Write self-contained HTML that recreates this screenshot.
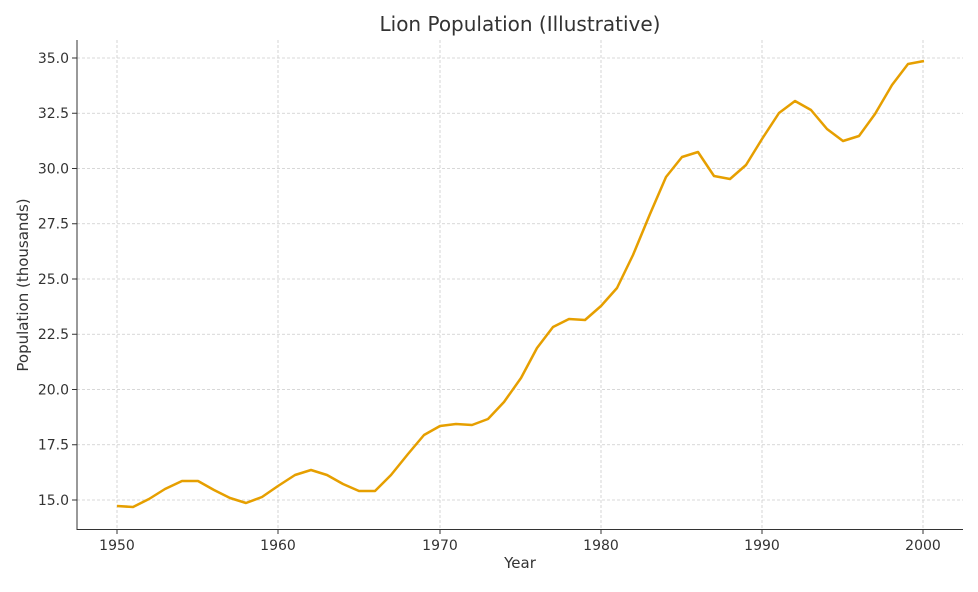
<!DOCTYPE html>
<html><head><meta charset="utf-8"><style>
body{margin:0;background:#fff;}
svg text{font-family:"DejaVu Sans","Liberation Sans",sans-serif;fill:#333;}
</style></head><body>
<svg width="978" height="587" viewBox="0 0 978 587" xmlns="http://www.w3.org/2000/svg">
<rect width="978" height="587" fill="#fff"/>
<g stroke="#ccc" stroke-width="0.8" stroke-dasharray="3,2">
<line x1="117" y1="40" x2="117" y2="529"/>
<line x1="278" y1="40" x2="278" y2="529"/>
<line x1="440" y1="40" x2="440" y2="529"/>
<line x1="601" y1="40" x2="601" y2="529"/>
<line x1="762" y1="40" x2="762" y2="529"/>
<line x1="923" y1="40" x2="923" y2="529"/>
<line x1="77" y1="58" x2="963" y2="58"/>
<line x1="77" y1="113.25" x2="963" y2="113.25"/>
<line x1="77" y1="168.5" x2="963" y2="168.5"/>
<line x1="77" y1="223.75" x2="963" y2="223.75"/>
<line x1="77" y1="279" x2="963" y2="279"/>
<line x1="77" y1="334.25" x2="963" y2="334.25"/>
<line x1="77" y1="389.5" x2="963" y2="389.5"/>
<line x1="77" y1="444.75" x2="963" y2="444.75"/>
<line x1="77" y1="500" x2="963" y2="500"/>
</g>
<g stroke="#333" stroke-width="1">
<line x1="77" y1="40" x2="77" y2="529.5"/>
<line x1="76.5" y1="529.5" x2="963" y2="529.5"/>
<g>
<line x1="117" y1="529" x2="117" y2="534"/><line x1="278" y1="529" x2="278" y2="534"/>
<line x1="440" y1="529" x2="440" y2="534"/><line x1="601" y1="529" x2="601" y2="534"/>
<line x1="762" y1="529" x2="762" y2="534"/><line x1="923" y1="529" x2="923" y2="534"/>
<line x1="72" y1="58" x2="77" y2="58"/><line x1="72" y1="113.25" x2="77" y2="113.25"/>
<line x1="72" y1="168.5" x2="77" y2="168.5"/><line x1="72" y1="223.75" x2="77" y2="223.75"/>
<line x1="72" y1="279" x2="77" y2="279"/><line x1="72" y1="334.25" x2="77" y2="334.25"/>
<line x1="72" y1="389.5" x2="77" y2="389.5"/><line x1="72" y1="444.75" x2="77" y2="444.75"/>
<line x1="72" y1="500" x2="77" y2="500"/>
</g></g>
<g font-size="14" text-anchor="middle">
<text x="117" y="550">1950</text><text x="278" y="550">1960</text><text x="440" y="550">1970</text>
<text x="601" y="550">1980</text><text x="762" y="550">1990</text><text x="923" y="550">2000</text>
</g>
<g font-size="14" text-anchor="end">
<text x="69" y="63">35.0</text><text x="69" y="118">32.5</text><text x="69" y="173.5">30.0</text>
<text x="69" y="228.5">27.5</text><text x="69" y="284">25.0</text><text x="69" y="339">22.5</text>
<text x="69" y="394.5">20.0</text><text x="69" y="449.5">17.5</text><text x="69" y="505">15.0</text>
</g>
<text x="520" y="568" font-size="15" text-anchor="middle">Year</text>
<text transform="translate(28,285) rotate(-90)" font-size="15" text-anchor="middle">Population (thousands)</text>
<text x="520" y="31" font-size="20" text-anchor="middle">Lion Population (Illustrative)</text>
<polyline fill="none" stroke="#E69F00" stroke-width="2.5" stroke-linejoin="round" points="117,506 133,507 149,499 165,489 182,481 198,481 214,490 230,498 246,503 262,497 278,486 295,475 311,470 327,475 343,484 359,491 375,491 391,475 408,454 424,435 440,426 456,424 472,425 488,419 504,402 521,378 537,348 553,327 569,319 585,320 601,306 617,288 633,255 650,214 666,177 682,157 698,152 714,176 730,179 746,165 762,139 779,113 795,101 811,110 827,129 843,141 859,136 875,114 892,85 908,64 924,61"/>
</svg>
</body></html>
